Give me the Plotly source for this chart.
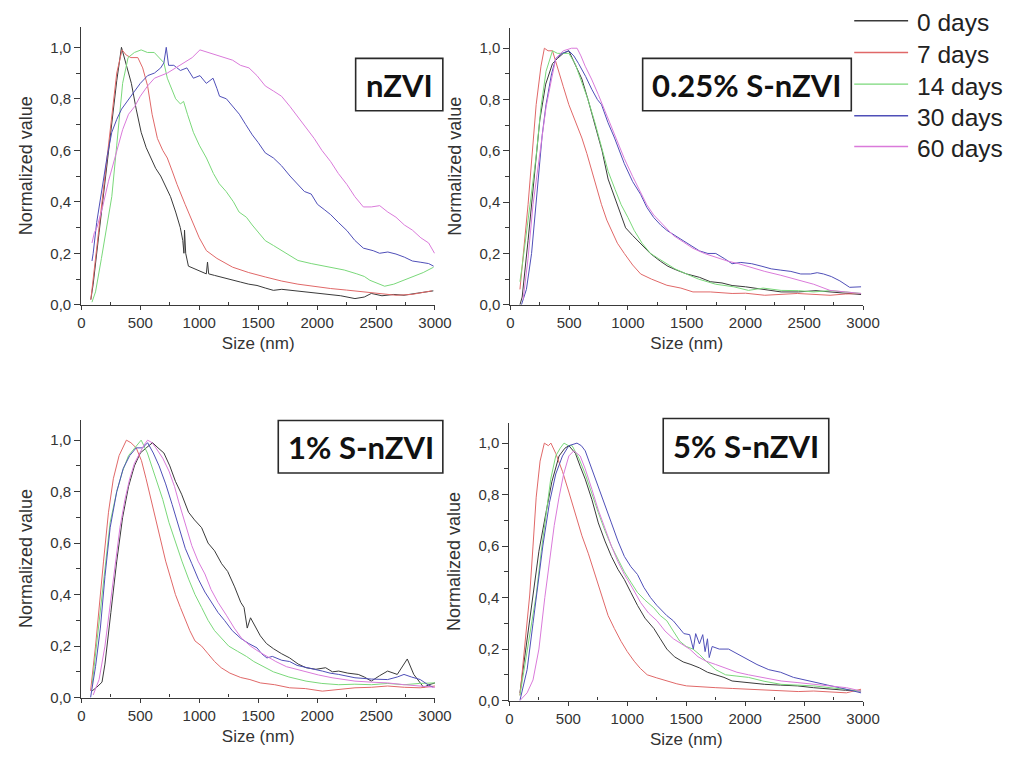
import plotly.graph_objects as go

# ---------------- data ----------------
days = ["0 days", "7 days", "14 days", "30 days", "60 days"]
colors = ["#3a3a3a", "#e06868", "#7ad87a", "#4f4fb8", "#da7ada"]
panel_labels = ["nZVI", "0.25% S-nZVI", "1% S-nZVI", "5% S-nZVI"]
x_tick_vals = [0, 500, 1000, 1500, 2000, 2500, 3000]
x_tick_text = ["0", "500", "1000", "1500", "2000", "2500", "3000"]
x_minor_vals = [250, 750, 1250, 1750, 2250, 2750]
y_tick_vals = [0.0, 0.2, 0.4, 0.6, 0.8, 1.0]
y_tick_text = ["0,0", "0,2", "0,4", "0,6", "0,8", "1,0"]
y_minor_vals = [0.1, 0.3, 0.5, 0.7, 0.9]
x_title = "Size (nm)"
y_title = "Normalized value"

# nZVI  (size nm, normalized value)
nzvi_0d = [(80,0.02),(100,0.08),(150,0.28),(200,0.48),(250,0.68),(300,0.87),(340,1.0),(380,0.93),(424,0.86),(465,0.76),(507,0.67),(550,0.61),(590,0.57),(630,0.53),(673,0.5),(715,0.46),(756,0.42),(800,0.36),(839,0.3),(860,0.25),(870,0.2),(875,0.29),(885,0.2),(908,0.15),(960,0.14),(1020,0.127),(1060,0.12),(1070,0.166),(1080,0.12),(1130,0.114),(1200,0.105),(1280,0.095),(1351,0.088),(1420,0.08),(1490,0.075),(1560,0.065),(1629,0.056),(1700,0.06),(1800,0.055),(1906,0.05),(2000,0.045),(2100,0.04),(2200,0.035),(2321,0.024),(2400,0.03),(2460,0.044),(2550,0.035),(2650,0.04),(2737,0.037),(2850,0.045),(2986,0.054)]
nzvi_7d = [(80,0.02),(100,0.1),(150,0.3),(200,0.5),(250,0.72),(300,0.9),(345,0.99),(380,0.97),(420,0.96),(479,0.96),(520,0.92),(562,0.85),(600,0.74),(645,0.646),(690,0.6),(729,0.57),(770,0.52),(812,0.467),(880,0.39),(950,0.31),(1000,0.26),(1061,0.21),(1150,0.18),(1283,0.146),(1420,0.125),(1560,0.108),(1700,0.092),(1837,0.08),(1980,0.07),(2115,0.063),(2250,0.057),(2392,0.05),(2530,0.042),(2669,0.037),(2800,0.04),(2974,0.054)]
nzvi_14d = [(90,0.01),(120,0.05),(170,0.18),(220,0.32),(258,0.42),(300,0.62),(350,0.86),(396,0.96),(450,0.98),(507,0.99),(560,0.98),(618,0.98),(660,0.96),(700,0.94),(729,0.88),(770,0.83),(800,0.8),(840,0.78),(867,0.79),(900,0.74),(950,0.67),(1000,0.62),(1061,0.57),(1120,0.51),(1170,0.47),(1228,0.44),(1290,0.4),(1338,0.36),(1400,0.34),(1449,0.31),(1500,0.28),(1560,0.249),(1630,0.23),(1698,0.21),(1770,0.19),(1837,0.172),(1950,0.16),(2115,0.146),(2230,0.135),(2337,0.12),(2400,0.11),(2448,0.095),(2520,0.082),(2573,0.072),(2650,0.08),(2730,0.095),(2808,0.108),(2900,0.125),(2988,0.146)]
nzvi_30d = [(90,0.17),(100,0.2),(130,0.32),(175,0.45),(220,0.58),(258,0.67),(300,0.72),(341,0.76),(400,0.8),(452,0.83),(500,0.86),(562,0.89),(620,0.9),(673,0.92),(700,0.94),(720,1.0),(740,0.93),(784,0.93),(840,0.91),(895,0.92),(950,0.88),(1006,0.89),(1060,0.86),(1117,0.88),(1150,0.84),(1172,0.81),(1230,0.8),(1283,0.77),(1340,0.74),(1394,0.7),(1450,0.66),(1500,0.63),(1560,0.59),(1630,0.57),(1698,0.54),(1770,0.5),(1837,0.466),(1892,0.44),(1950,0.43),(2003,0.39),(2060,0.37),(2115,0.35),(2180,0.32),(2253,0.288),(2320,0.25),(2392,0.22),(2476,0.21),(2530,0.2),(2600,0.205),(2669,0.197),(2740,0.185),(2808,0.17),(2880,0.165),(2946,0.16),(2988,0.15)]
nzvi_60d = [(90,0.24),(110,0.28),(132,0.3),(180,0.38),(230,0.48),(299,0.6),(350,0.68),(400,0.74),(452,0.77),(500,0.81),(562,0.85),(620,0.88),(680,0.89),(729,0.9),(800,0.92),(867,0.94),(940,0.96),(1006,0.99),(1080,0.98),(1145,0.97),(1210,0.96),(1283,0.95),(1350,0.93),(1422,0.92),(1490,0.89),(1560,0.85),(1630,0.83),(1698,0.81),(1770,0.77),(1837,0.73),(1900,0.69),(1975,0.646),(2040,0.6),(2115,0.556),(2180,0.51),(2253,0.467),(2320,0.42),(2392,0.38),(2460,0.38),(2531,0.385),(2600,0.36),(2669,0.34),(2740,0.31),(2808,0.29),(2880,0.26),(2946,0.24),(2996,0.2)]

# 0.25% S-nZVI
s025_0d = [(81,0.0),(100,0.03),(150,0.25),(200,0.5),(250,0.72),(300,0.86),(358,0.94),(400,0.96),(450,0.98),(497,0.99),(550,0.94),(608,0.88),(660,0.8),(719,0.7),(780,0.6),(831,0.49),(900,0.4),(950,0.34),(969,0.31),(980,0.3),(1040,0.27),(1108,0.24),(1190,0.2),(1275,0.17),(1340,0.15),(1414,0.135),(1500,0.12),(1608,0.107),(1700,0.09),(1800,0.085),(1886,0.075),(2000,0.07),(2150,0.06),(2303,0.05),(2450,0.05),(2600,0.055),(2719,0.05),(2850,0.045),(2983,0.04)]
s025_7d = [(81,0.06),(100,0.15),(150,0.39),(219,0.78),(260,0.93),(289,1.0),(320,0.99),(358,0.99),(414,0.91),(450,0.85),(497,0.78),(550,0.72),(608,0.65),(650,0.59),(692,0.52),(735,0.45),(775,0.39),(820,0.33),(858,0.29),(910,0.24),(969,0.2),(1040,0.155),(1108,0.12),(1200,0.1),(1331,0.076),(1450,0.065),(1553,0.05),(1700,0.05),(1886,0.044),(2000,0.045),(2164,0.037),(2300,0.04),(2441,0.044),(2600,0.04),(2719,0.037),(2850,0.042),(2983,0.044)]
s025_14d = [(81,0.09),(100,0.15),(150,0.33),(219,0.58),(260,0.77),(303,0.91),(358,0.99),(400,0.98),(450,0.98),(497,0.98),(550,0.94),(608,0.87),(660,0.8),(719,0.71),(780,0.61),(831,0.52),(890,0.45),(942,0.39),(1000,0.34),(1053,0.29),(1120,0.24),(1192,0.2),(1260,0.18),(1331,0.16),(1400,0.14),(1497,0.12),(1600,0.1),(1747,0.08),(1900,0.07),(2025,0.056),(2150,0.065),(2303,0.056),(2450,0.055),(2580,0.05),(2719,0.055),(2850,0.05),(2983,0.044)]
s025_30d = [(94,0.0),(136,0.06),(180,0.2),(230,0.45),(270,0.66),(303,0.78),(350,0.9),(386,0.96),(440,0.98),(497,0.99),(540,0.97),(580,0.94),(640,0.89),(692,0.84),(740,0.8),(775,0.78),(830,0.71),(886,0.65),(930,0.6),(969,0.55),(1040,0.48),(1108,0.43),(1160,0.38),(1219,0.34),(1280,0.31),(1331,0.29),(1400,0.27),(1469,0.25),(1540,0.23),(1608,0.21),(1680,0.2),(1747,0.2),(1820,0.18),(1886,0.16),(1960,0.165),(2053,0.16),(2140,0.15),(2219,0.14),(2300,0.135),(2386,0.13),(2470,0.12),(2553,0.12),(2610,0.125),(2664,0.12),(2730,0.11),(2803,0.093),(2886,0.068),(2983,0.07)]
s025_60d = [(108,0.02),(150,0.18),(192,0.39),(250,0.6),(303,0.77),(350,0.88),(386,0.96),(450,0.99),(520,1.0),(567,1.0),(600,0.97),(636,0.93),(690,0.88),(747,0.82),(800,0.76),(858,0.69),(910,0.63),(969,0.57),(1040,0.5),(1108,0.44),(1160,0.39),(1219,0.35),(1300,0.31),(1386,0.27),(1470,0.245),(1553,0.22),(1650,0.2),(1747,0.185),(1850,0.17),(1942,0.16),(2050,0.145),(2164,0.13),(2300,0.115),(2441,0.096),(2580,0.08),(2719,0.056),(2850,0.05),(2983,0.044)]

# 1% S-nZVI
s1_0d = [(91,0.026),(130,0.04),(175,0.06),(200,0.13),(250,0.33),(300,0.53),(350,0.7),(400,0.82),(450,0.9),(500,0.95),(550,0.97),(604,0.99),(650,0.97),(700,0.95),(750,0.9),(798,0.84),(850,0.79),(909,0.72),(960,0.69),(1020,0.66),(1075,0.6),(1130,0.57),(1190,0.52),(1241,0.49),(1300,0.43),(1352,0.37),(1380,0.35),(1407,0.27),(1435,0.31),(1470,0.28),(1518,0.24),(1570,0.21),(1629,0.19),(1700,0.17),(1767,0.154),(1840,0.13),(1906,0.116),(1990,0.11),(2072,0.116),(2130,0.1),(2183,0.103),(2260,0.095),(2349,0.09),(2400,0.08),(2460,0.064),(2530,0.085),(2598,0.103),(2680,0.09),(2765,0.15),(2820,0.09),(2870,0.06),(2903,0.04),(2950,0.05),(3000,0.057)]
s1_7d = [(78,0.026),(120,0.2),(188,0.53),(230,0.72),(271,0.85),(320,0.94),(382,1.0),(420,0.99),(465,0.97),(510,0.92),(549,0.85),(590,0.77),(632,0.68),(675,0.6),(715,0.53),(760,0.46),(798,0.4),(840,0.35),(881,0.3),(920,0.26),(964,0.22),(1020,0.2),(1075,0.17),(1130,0.14),(1186,0.116),(1260,0.095),(1352,0.078),(1430,0.07),(1518,0.057),(1640,0.05),(1767,0.038),(1900,0.035),(2044,0.025),(2180,0.03),(2321,0.038),(2460,0.04),(2598,0.045),(2740,0.04),(2875,0.038),(3000,0.045)]
s1_14d = [(91,0.05),(150,0.3),(200,0.52),(244,0.68),(300,0.8),(350,0.88),(400,0.94),(450,0.97),(507,1.0),(560,0.95),(632,0.85),(690,0.77),(743,0.68),(800,0.6),(853,0.53),(910,0.46),(964,0.4),(1020,0.35),(1075,0.3),(1130,0.26),(1186,0.23),(1250,0.2),(1324,0.18),(1400,0.16),(1463,0.14),(1540,0.12),(1629,0.1),(1760,0.08),(1906,0.064),(2040,0.055),(2183,0.05),(2320,0.052),(2460,0.05),(2600,0.055),(2737,0.05),(2870,0.055),(3000,0.057)]
s1_30d = [(78,0.0),(120,0.12),(161,0.27),(200,0.47),(244,0.66),(300,0.8),(355,0.89),(410,0.94),(465,0.97),(520,0.97),(562,0.99),(610,0.95),(659,0.9),(715,0.83),(770,0.75),(826,0.66),(881,0.58),(937,0.52),(992,0.46),(1048,0.41),(1103,0.37),(1160,0.33),(1214,0.3),(1280,0.26),(1352,0.23),(1420,0.21),(1490,0.193),(1530,0.17),(1574,0.154),(1620,0.16),(1700,0.145),(1767,0.14),(1830,0.125),(1906,0.116),(1975,0.11),(2044,0.103),(2110,0.095),(2183,0.09),(2250,0.083),(2321,0.077),(2460,0.072),(2598,0.07),(2680,0.08),(2737,0.09),(2800,0.08),(2875,0.07),(2940,0.05),(2986,0.04)]
s1_60d = [(100,0.01),(150,0.07),(200,0.2),(250,0.38),(300,0.56),(327,0.66),(370,0.77),(410,0.85),(450,0.91),(493,0.95),(530,0.98),(562,1.0),(600,0.99),(632,0.97),(690,0.93),(743,0.88),(790,0.82),(826,0.76),(880,0.68),(937,0.59),(990,0.53),(1048,0.48),(1100,0.42),(1159,0.37),(1230,0.32),(1297,0.27),(1360,0.23),(1435,0.2),(1500,0.18),(1574,0.16),(1650,0.14),(1740,0.12),(1820,0.11),(1906,0.1),(2010,0.088),(2127,0.077),(2220,0.07),(2321,0.064),(2460,0.06),(2598,0.057),(2740,0.05),(2875,0.045),(3000,0.04)]

# 5% S-nZVI
s5_0d = [(89,0.03),(140,0.2),(199,0.41),(250,0.58),(310,0.73),(360,0.85),(421,0.95),(470,0.98),(504,0.99),(560,0.96),(600,0.91),(643,0.86),(700,0.78),(754,0.69),(810,0.62),(865,0.56),(920,0.51),(975,0.47),(1030,0.42),(1086,0.37),(1150,0.32),(1225,0.28),(1280,0.24),(1335,0.2),(1400,0.17),(1474,0.15),(1540,0.14),(1612,0.127),(1680,0.11),(1751,0.1),(1820,0.09),(1889,0.076),(2000,0.07),(2100,0.065),(2166,0.063),(2300,0.06),(2443,0.057),(2580,0.05),(2720,0.044),(2850,0.04),(2983,0.037)]
s5_7d = [(89,0.02),(130,0.2),(172,0.41),(200,0.6),(227,0.79),(260,0.93),(296,1.0),(330,0.99),(352,1.0),(393,0.96),(450,0.89),(504,0.81),(560,0.72),(615,0.64),(670,0.57),(726,0.49),(780,0.41),(837,0.33),(890,0.28),(947,0.23),(1000,0.19),(1058,0.153),(1110,0.125),(1169,0.1),(1250,0.088),(1335,0.076),(1420,0.065),(1502,0.057),(1620,0.055),(1751,0.05),(1890,0.047),(2028,0.044),(2160,0.04),(2305,0.037),(2450,0.035),(2582,0.037),(2720,0.033),(2859,0.03),(2983,0.044)]
s5_14d = [(89,0.02),(150,0.2),(227,0.41),(270,0.58),(310,0.73),(350,0.86),(393,0.95),(430,0.98),(463,1.0),(500,0.99),(532,0.99),(590,0.94),(643,0.88),(700,0.8),(754,0.73),(810,0.66),(865,0.6),(920,0.55),(975,0.5),(1030,0.46),(1086,0.42),(1150,0.39),(1225,0.36),(1280,0.33),(1335,0.31),(1390,0.27),(1446,0.23),(1500,0.21),(1557,0.2),(1610,0.18),(1668,0.153),(1750,0.12),(1834,0.1),(1930,0.095),(2028,0.09),(2160,0.075),(2305,0.063),(2440,0.06),(2582,0.057),(2720,0.05),(2859,0.044),(2983,0.037)]
s5_30d = [(89,0.0),(150,0.12),(200,0.3),(250,0.48),(283,0.6),(340,0.77),(393,0.88),(450,0.95),(504,0.99),(573,1.0),(610,0.99),(643,0.97),(700,0.9),(754,0.83),(810,0.76),(865,0.69),(920,0.62),(975,0.56),(1030,0.52),(1086,0.49),(1140,0.44),(1197,0.4),(1250,0.37),(1335,0.33),(1390,0.31),(1446,0.28),(1480,0.26),(1529,0.256),(1560,0.2),(1580,0.26),(1612,0.22),(1640,0.256),(1660,0.19),(1680,0.24),(1695,0.167),(1720,0.21),(1780,0.2),(1859,0.2),(1940,0.18),(2025,0.16),(2100,0.14),(2200,0.12),(2300,0.11),(2410,0.09),(2500,0.08),(2600,0.07),(2700,0.06),(2800,0.05),(2900,0.04),(2983,0.03)]
s5_60d = [(89,0.0),(150,0.03),(200,0.08),(250,0.2),(300,0.4),(338,0.54),(380,0.68),(421,0.79),(460,0.88),(504,0.95),(546,0.97),(600,0.95),(643,0.9),(700,0.82),(754,0.74),(810,0.67),(865,0.6),(920,0.54),(975,0.49),(1040,0.44),(1114,0.38),(1180,0.34),(1252,0.31),(1320,0.27),(1391,0.24),(1460,0.22),(1529,0.2),(1600,0.17),(1668,0.153),(1750,0.14),(1834,0.127),(1930,0.11),(2028,0.1),(2160,0.088),(2305,0.076),(2440,0.07),(2582,0.063),(2720,0.055),(2859,0.05),(2983,0.037)]

panels = [
    [nzvi_0d, nzvi_7d, nzvi_14d, nzvi_30d, nzvi_60d],
    [s025_0d, s025_7d, s025_14d, s025_30d, s025_60d],
    [s1_0d, s1_7d, s1_14d, s1_30d, s1_60d],
    [s5_0d, s5_7d, s5_14d, s5_30d, s5_60d],
]

# ---------------- layout helpers ----------------
W, H = 1026, 761
def fx(p):
    return p / W
def fy(p):
    return 1 - p / H

AX = "#3a3a3a"
TXT = "#333333"
SANS = "Liberation Sans, Arial, sans-serif"

# plot boxes in pixels: (left, right, top, bottom)
boxes = [(79, 440, 27, 308), (517, 877, 28, 308), (79, 440, 424, 705), (516, 877, 427, 708)]
label_boxes = [(359, 59, 448, 112), (652, 59, 865, 112), (280, 425, 448, 478), (673, 423, 842, 478)]

fig = go.Figure()
for i, series in enumerate(panels):
    xa = "x" if i == 0 else f"x{i+1}"
    ya = "y" if i == 0 else f"y{i+1}"
    for j, pts in enumerate(series):
        fig.add_trace(go.Scatter(
            x=[p[0] for p in pts], y=[p[1] for p in pts],
            mode="lines", name=days[j], legendgroup=days[j],
            line=dict(color=colors[j], width=1.0),
            xaxis=xa, yaxis=ya, showlegend=False,
        ))

layout = dict(
    width=W, height=H, margin=dict(l=0, r=0, t=0, b=0),
    paper_bgcolor="white", plot_bgcolor="white",
    showlegend=False, font=dict(family=SANS, color=TXT),
)
for i, (l, r, t, b) in enumerate(boxes):
    kx = "xaxis" if i == 0 else f"xaxis{i+1}"
    ky = "yaxis" if i == 0 else f"yaxis{i+1}"
    xa = "x" if i == 0 else f"x{i+1}"
    ya = "y" if i == 0 else f"y{i+1}"
    layout[kx] = dict(
        domain=[fx(l), fx(r)], anchor=ya, range=[0, 3000],
        tickmode="array", tickvals=x_tick_vals, ticktext=x_tick_text,
        showline=True, linecolor=AX, linewidth=1.3, mirror=False,
        ticks="outside", ticklen=4, tickwidth=1.2, tickcolor=AX,
        minor=dict(tickmode="array", tickvals=x_minor_vals, ticks="inside", ticklen=3, tickwidth=1, tickcolor=AX),
        showgrid=False, zeroline=False,
        tickfont=dict(family=SANS, size=15, color=TXT),
        title=dict(text=x_title, font=dict(family=SANS, size=17, color=TXT), standoff=7),
    )
    layout[ky] = dict(
        domain=[fy(b), fy(t)], anchor=xa, range=[0, 1.08],
        tickmode="array", tickvals=y_tick_vals, ticktext=y_tick_text,
        showline=True, linecolor=AX, linewidth=1.3,
        ticks="outside", ticklen=6, tickwidth=1.2, tickcolor=AX,
        minor=dict(tickmode="array", tickvals=y_minor_vals, ticks="outside", ticklen=4, tickwidth=1, tickcolor=AX),
        showgrid=False, zeroline=False,
        tickfont=dict(family=SANS, size=15, color=TXT),
        title=dict(text=y_title, font=dict(family=SANS, size=18, color=TXT), standoff=13),
    )

shapes = []
annotations = []
# panel label boxes
for (x0, y0, x1, y1), txt in zip(label_boxes, panel_labels):
    shapes.append(dict(type="rect", xref="paper", yref="paper",
                       x0=fx(x0), x1=fx(x1), y0=fy(y1), y1=fy(y0),
                       line=dict(color="#2a2a2a", width=1.6), fillcolor="white", layer="above"))
    annotations.append(dict(xref="paper", yref="paper", x=fx((x0 + x1) / 2), y=fy((y0 + y1) / 2),
                            text=f"<b>{txt}</b>", showarrow=False, xanchor="center", yanchor="middle",
                            font=dict(family="Lato, Carlito, sans-serif", size=31, color="#111111")))

# legend (top right)
leg_rows = [21, 53, 85, 117, 148]
for name, col, yy in zip(days, colors, leg_rows):
    shapes.append(dict(type="line", xref="paper", yref="paper",
                       x0=fx(868), x1=fx(923), y0=fy(yy), y1=fy(yy),
                       line=dict(color=col, width=1.4)))
    annotations.append(dict(xref="paper", yref="paper", x=fx(930), y=fy(yy + 2),
                            text=name, showarrow=False, xanchor="left", yanchor="middle",
                            font=dict(family=SANS, size=24.5, color="#222222")))

layout["shapes"] = shapes
layout["annotations"] = annotations
fig.update_layout(**layout)
fig.write_html("out.html")
